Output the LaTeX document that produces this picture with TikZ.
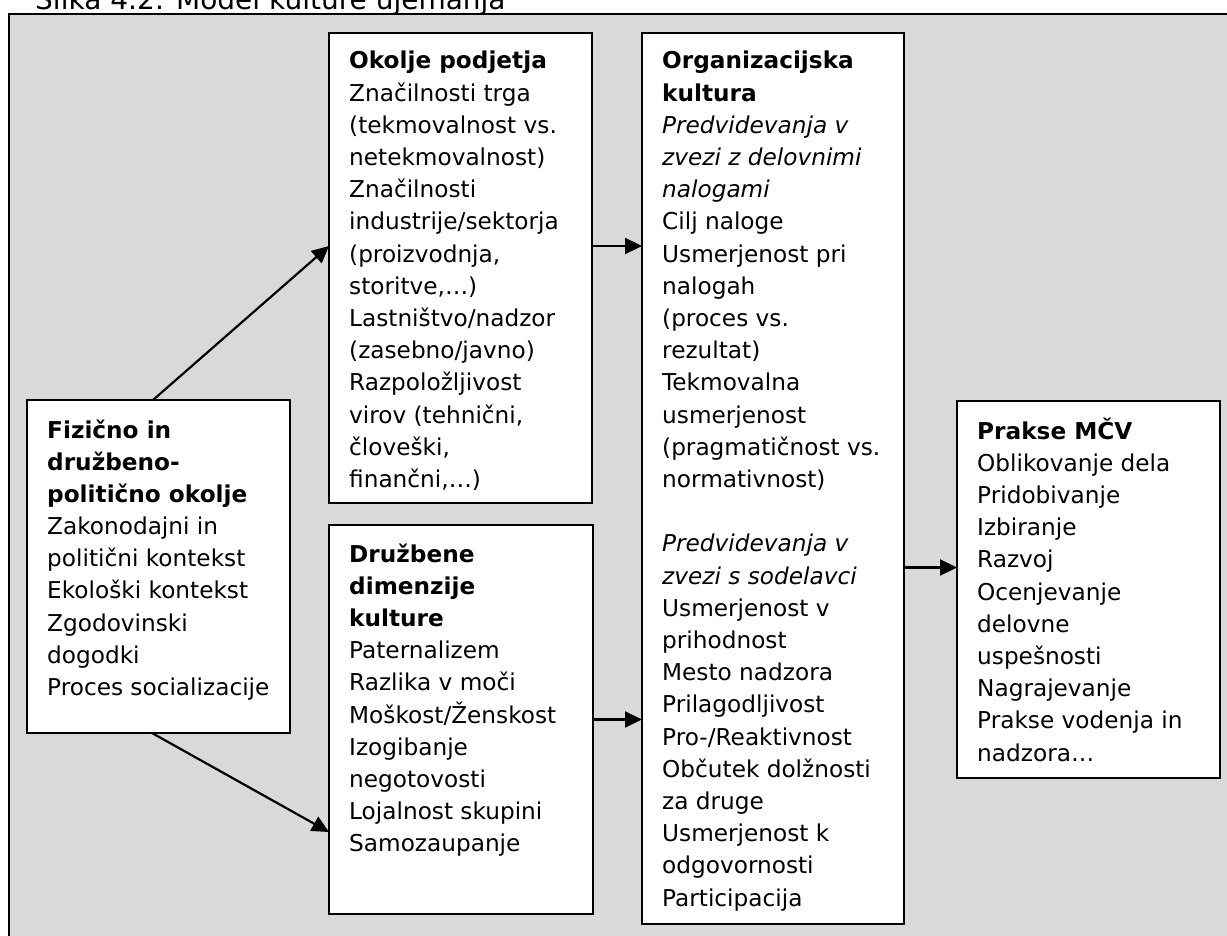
\documentclass[tikz,border=0pt]{standalone}
\usepackage{fontspec}
\setmainfont{DejaVu Sans}
\usetikzlibrary{arrows.meta}
\definecolor{bg}{HTML}{D9D9D9}
\begin{document}
\begin{tikzpicture}[x=1pt,y=-1pt,
  box/.style={draw=black, line width=2pt, fill=white, rectangle, anchor=north west, inner sep=0pt, outer sep=0pt},
  txt/.style={anchor=base west, inner sep=0pt, font=\fontsize{23.2}{32.2}\selectfont},
  arr/.style={line width=2.2pt, -{Triangle[length=17pt,width=16pt]}}]
\useasboundingbox (0,0) rectangle (1227,936);
\clip (0,0) rectangle (1227,936);
\fill[white] (0,0) rectangle (1227,936);
\draw[fill=bg, line width=2.2pt] (9,14) rectangle (1240,950);
\node[anchor=base west, inner sep=0pt, font=\fontsize{28}{34}\selectfont] (title) at (35,9.5) {Slika 4.2: Model kulture ujemanja};

\node[box, minimum width=263pt, minimum height=333pt] (A) at (27,400) {};
\node[box, minimum width=263pt, minimum height=470pt] (B) at (329,33) {};
\node[box, minimum width=264pt, minimum height=389pt] (C) at (329,525) {};
\node[box, minimum width=262pt, minimum height=891pt] (D) at (642,33) {};
\node[box, minimum width=263pt, minimum height=377pt] (E) at (957,401) {};

\node[txt] (tA) at (47,438) {\parbox[t]{240pt}{\raggedright
\textbf{Fizično in}\\
\textbf{družbeno-}\\
\textbf{politično okolje}\\
Zakonodajni in\\
politični kontekst\\
Ekološki kontekst\\
Zgodovinski\\
dogodki\\
Proces socializacije}};

\node[txt] (tB) at (349,69) {\parbox[t]{240pt}{\raggedright
\textbf{Okolje podjetja}\\
Značilnosti trga\\
(tekmovalnost vs.\\
netekmovalnost)\\
Značilnosti\\
industrije/sektorja\\
(proizvodnja,\\
storitve,…)\\
Lastništvo/nadzor\\
(zasebno/javno)\\
Razpoložljivost\\
virov (tehnični,\\
človeški,\\
finančni,…)}};

\node[txt] (tC) at (349,562) {\parbox[t]{240pt}{\raggedright
\textbf{Družbene}\\
\textbf{dimenzije}\\
\textbf{kulture}\\
Paternalizem\\
Razlika v moči\\
Moškost/Ženskost\\
Izogibanje\\
negotovosti\\
Lojalnost skupini\\
Samozaupanje}};

\node[txt] (tD) at (662,69) {\parbox[t]{240pt}{\raggedright
\textbf{Organizacijska}\\
\textbf{kultura}\\
\textit{Predvidevanja v}\\
\textit{zvezi z delovnimi}\\
\textit{nalogami}\\
Cilj naloge\\
Usmerjenost pri\\
nalogah\\
(proces vs.\\
rezultat)\\
Tekmovalna\\
usmerjenost\\
(pragmatičnost vs.\\
normativnost)\\
\mbox{}\\
\textit{Predvidevanja v}\\
\textit{zvezi s sodelavci}\\
Usmerjenost v\\
prihodnost\\
Mesto nadzora\\
Prilagodljivost\\
Pro-/Reaktivnost\\
Občutek dolžnosti\\
za druge\\
Usmerjenost k\\
odgovornosti\\
Participacija}};

\node[txt] (tE) at (977,439) {\parbox[t]{240pt}{\raggedright
\textbf{Prakse MČV}\\
Oblikovanje dela\\
Pridobivanje\\
Izbiranje\\
Razvoj\\
Ocenjevanje\\
delovne\\
uspešnosti\\
Nagrajevanje\\
Prakse vodenja in\\
nadzora…}};

\draw[arr] ([xshift=-5.5pt]A.north) -- ([yshift=22pt]B.west);
\draw[arr] ([xshift=-6.5pt]A.south) -- ([yshift=-112.5pt]C.west);
\draw[arr] ([yshift=22pt]B.east) -- ([yshift=22pt]B.east -| D.west);
\draw[arr] (C.east) -- (C.east -| D.west);
\draw[arr] ([yshift=22pt]E.west -| D.east) -- ([yshift=22pt]E.west);
\end{tikzpicture}
\end{document}
